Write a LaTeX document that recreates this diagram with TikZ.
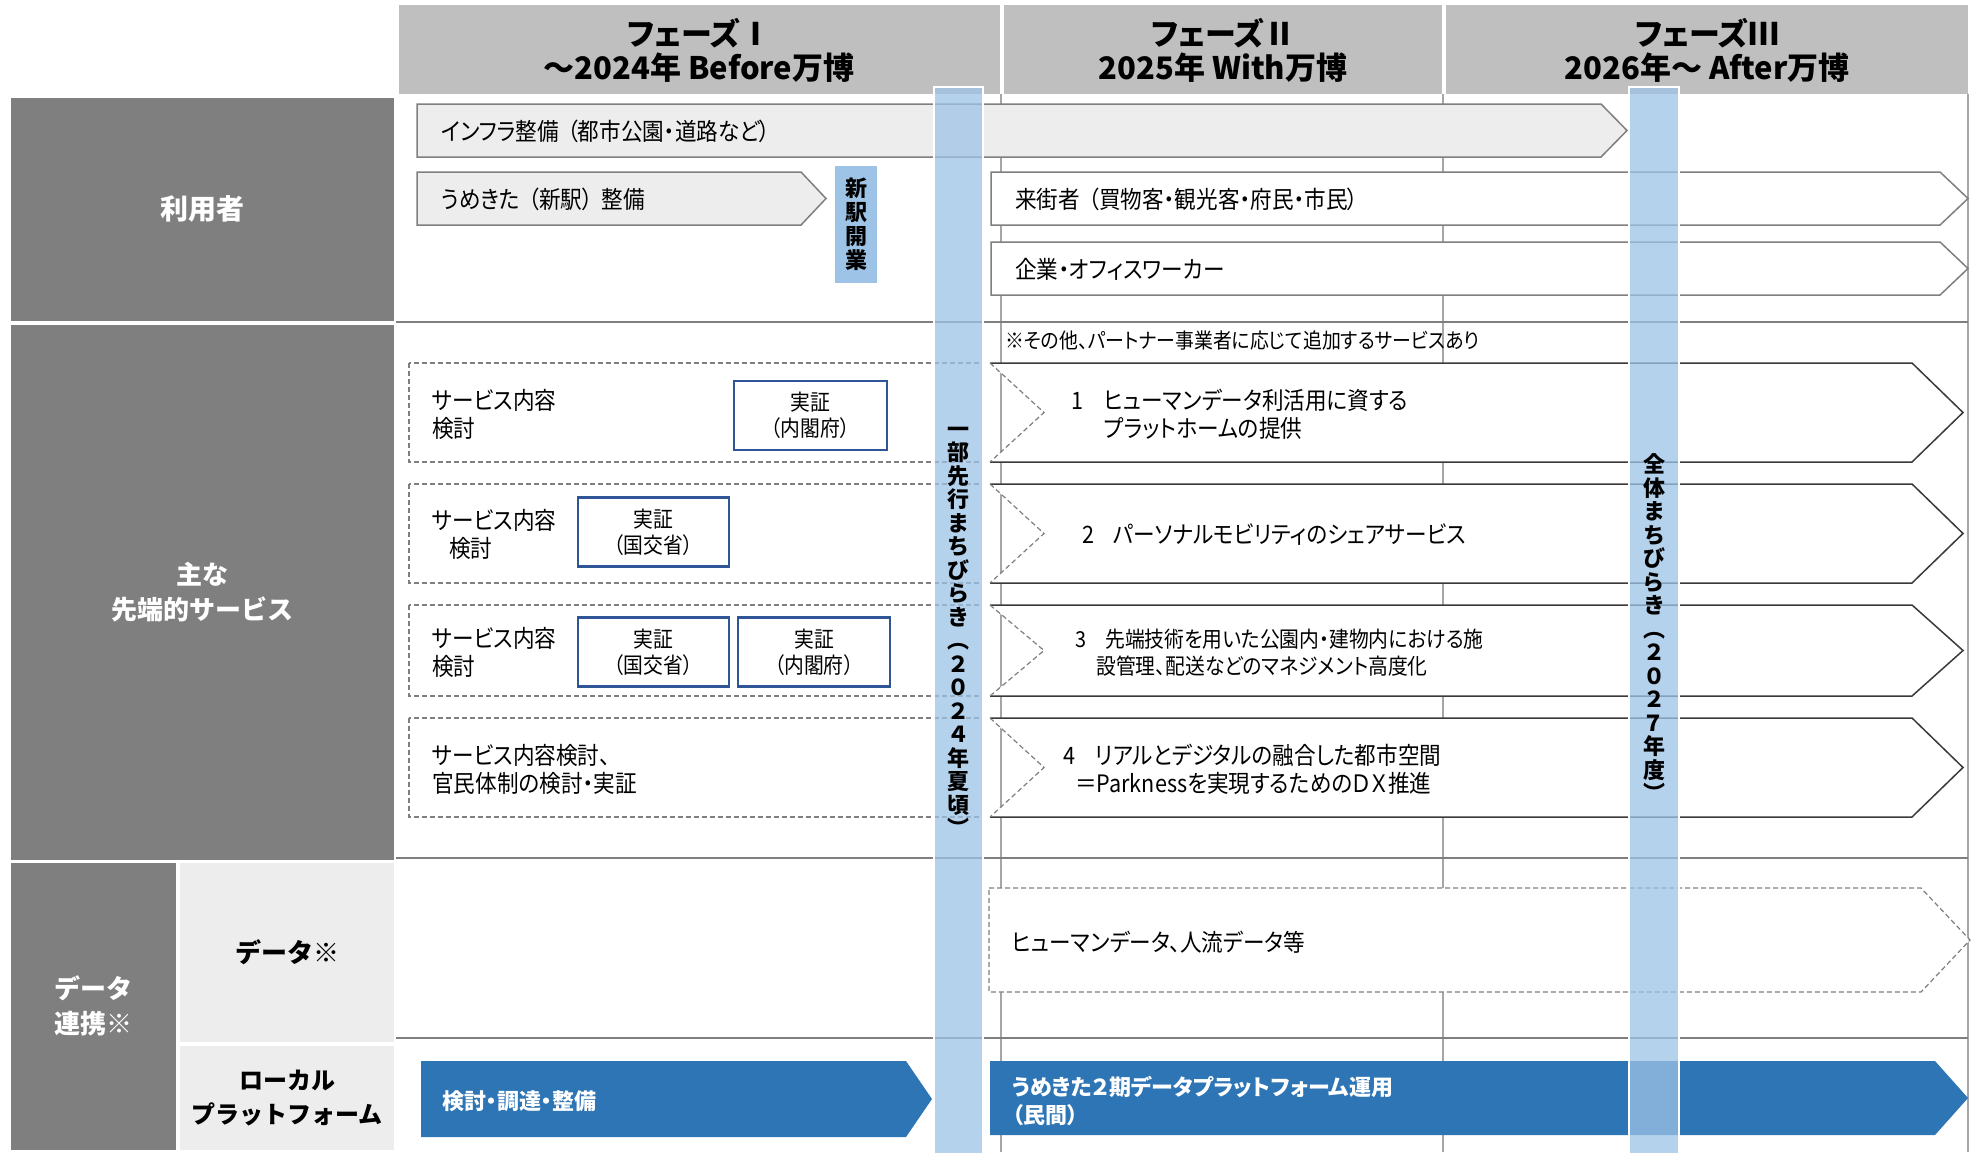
\documentclass[tikz,border=0pt]{standalone}
\usepackage{fontspec}
\setmainfont{Noto Sans CJK JP}[RawFeature=+palt]
\newfontfamily\bodyfont{Noto Sans CJK JP}[RawFeature=+palt,FakeStretch=0.9]
\newfontfamily\labfont{Noto Sans CJK JP}
\definecolor{hdr}{HTML}{BFBFBF}
\definecolor{darkc}{HTML}{7F7F7F}
\definecolor{lightc}{HTML}{EDEDED}
\definecolor{bandc}{HTML}{9DC3E6}
\definecolor{bluea}{HTML}{2E75B6}
\definecolor{boxb}{HTML}{2F5597}
\definecolor{gridc}{HTML}{7F7F7F}
\definecolor{vgridc}{HTML}{A6A6A6}
\definecolor{chevc}{HTML}{3A3A3A}
\newcommand{\myfs}[2]{\fontsize{#1}{#2}\selectfont}
\newcommand{\lp}{\hspace{0.35em}（}
\newcommand{\rp}{）\hspace{0.35em}}
\begin{document}
\begin{tikzpicture}[x=1pt,y=-1pt,
  hdrtext/.style={font=\bfseries\myfs{31}{34}, align=center, inner sep=0pt},
  labw/.style={font=\labfont\bfseries\myfs{26}{35}, text=white, align=center, inner sep=0pt},
  labb/.style={font=\labfont\bfseries\myfs{26}{35}, text=black, align=center, inner sep=0pt},
  gridh/.style={draw=gridc, line width=1.5pt},
  vline/.style={draw=vgridc, line width=1.2pt},
  grayarrow/.style={fill=lightc, draw=gridc, line width=1.5pt},
  whitearrow/.style={fill=white, draw=gridc, line width=1.5pt},
  dashbox/.style={draw=gridc, dash pattern=on 5pt off 3pt, line width=1.2pt},
  chevline/.style={draw=chevc, line width=1.5pt, line join=miter},
  shoubox/.style={draw=boxb, line width=2.5pt, fill=white, inner sep=0pt, align=center, font=\bodyfont\myfs{22}{26}},
  bandbox/.style={fill=bandc, fill opacity=0.75, draw=white, line width=1.5pt},
  bandtext/.style={font=\bfseries\myfs{22}{23.5}, align=center, inner sep=0pt},
  txt/.style={font=\bodyfont\myfs{24}{28}, anchor=west, align=left, inner sep=0pt},
  wtxt/.style={font=\bfseries\myfs{22}{28}, text=white, anchor=west, align=left, inner sep=0pt},
]
\useasboundingbox (0,0) rectangle (1978,1152);
\fill[white] (0,0) rectangle (1978,1152);

% header
\fill[hdr] (399,5) rectangle (999.5,94);
\fill[hdr] (1004,5) rectangle (1441.5,94);
\fill[hdr] (1446,5) rectangle (1968,94);
\node[hdrtext] (h1) at (699,50) {フェーズⅠ\\～2024年 Before万博};
\node[hdrtext] (h2) at (1223,50) {フェーズⅡ\\2025年 With万博};
\node[hdrtext] (h3) at (1707,50) {フェーズⅢ\\2026年～ After万博};

% left labels
\fill[darkc] (11,98) rectangle (394,321);
\fill[darkc] (11,325) rectangle (394,860);
\fill[darkc] (11,863) rectangle (176,1150);
\fill[lightc] (180,863) rectangle (394,1042);
\fill[lightc] (180,1046) rectangle (394,1150);
\node[labw,font=\labfont\bfseries\myfs{28}{35}] (l1) at (202,209) {利用者};
\node[labw] (l2) at (202,592) {主な\\先端的サービス};
\node[labw] (l3) at (93,1006) {データ\\連携※};
\node[labb] (l4) at (287,952) {データ※};
\node[labb,font=\labfont\bfseries\myfs{24}{34}] (l5) at (287,1098) {ローカル\\プラットフォーム};

% grid
\draw[vline] (1001,94) -- (1001,1152);
\draw[vline] (1443,94) -- (1443,1152);
\draw[vline] (1968,94) -- (1968,1152);
\draw[gridh] (396,322) -- (1968,322);
\draw[gridh] (396,858) -- (1968,858);
\draw[gridh] (396,1038) -- (1968,1038);

% users
\draw[grayarrow] (417,104) -- (1601,104) -- (1627,130.5) -- (1601,157) -- (417,157) -- cycle;
\draw[grayarrow] (417,172) -- (801,172) -- (826,198.5) -- (801,225) -- (417,225) -- cycle;
\draw[whitearrow] (991,172) -- (1940,172) -- (1968,198.5) -- (1940,225) -- (991,225) -- cycle;
\draw[whitearrow] (991,242) -- (1940,242) -- (1968,268.5) -- (1940,295) -- (991,295) -- cycle;
\node[txt] (infra) at (441,131) {インフラ整備\lp 都市公園・道路など）};
\node[txt] (umeki) at (441,199) {うめきた\lp 新駅\rp 整備};
\node[txt] (raigai) at (1015,199) {来街者\lp 買物客・観光客・府民・市民）};
\node[txt] (kigyo) at (1015,269) {企業・オフィスワーカー};
\fill[bandc] (835,166) rectangle (877,283);
\node[bandtext,font=\bfseries\myfs{22}{24}] (shineki) at (856,224.5) {新\\駅\\開\\業};

% services
\node[txt,font=\bodyfont\myfs{21}{24}] (note) at (1005,341) {※その他、パートナー事業者に応じて追加するサービスあり};
\foreach \t/\b in {363/462, 484/583, 605/696, 718/817}{
  \draw[dashbox] (409,\t) rectangle (983,\b);
  \fill[white] (990,\t) -- (1912,\t) -- (1963,{(\t+\b)/2}) -- (1912,\b) -- (990,\b) -- (1044,{(\t+\b)/2}) -- cycle;
  \draw[chevline] (990,\t) -- (1912,\t) -- (1963,{(\t+\b)/2}) -- (1912,\b) -- (990,\b);
  \draw[dashbox] (990,\t) -- (1044,{(\t+\b)/2}) -- (990,\b);
}
\node[txt] (s1l) at (432,414) {サービス内容\\検討};
\node[txt] (s2l) at (432,534) {サービス内容\\\hspace*{0.7em}検討};
\node[txt] (s3l) at (432,652) {サービス内容\\検討};
\node[txt] (s4l) at (432,769) {サービス内容検討、\\官民体制の検討・実証};
\node[shoubox,minimum width=153pt,minimum height=69pt] (j1) at (810.5,415.5) {実証\\（内閣府）};
\node[shoubox,minimum width=151pt,minimum height=69pt] (j2) at (653.5,532) {実証\\（国交省）};
\node[shoubox,minimum width=151pt,minimum height=69pt] (j3) at (653.5,652) {実証\\（国交省）};
\node[shoubox,minimum width=152pt,minimum height=69pt] (j4) at (814,652) {実証\\（内閣府）};
\node[txt] (s1r) at (1071,414) {\makebox[33pt][l]{1}ヒューマンデータ利活用に資する\\\hspace*{33pt}プラットホームの提供};
\node[txt] (s2r) at (1082,535) {\makebox[31pt][l]{2}パーソナルモビリティのシェアサービス};
\node[txt,font=\bodyfont\myfs{22}{27}] (s3r) at (1075,653) {\makebox[30pt][l]{3}先端技術を用いた公園内・建物内における施\\\hspace*{21pt}設管理、配送などのマネジメント高度化};
\node[txt] (s4r) at (1063,769) {\makebox[32pt][l]{4}リアルとデジタルの融合した都市空間\\\hspace*{12pt}＝Parknessを実現するためのＤＸ推進};

% data
\draw[dashbox,fill=white] (989,888) -- (1921,888) -- (1970,940) -- (1921,992) -- (989,992) -- cycle;
\node[txt] (data) at (1012,942) {ヒューマンデータ、人流データ等};

% local platform
\fill[bluea] (421,1061) -- (906,1061) -- (932,1099) -- (906,1137) -- (421,1137) -- cycle;
\fill[bluea] (990,1061) -- (1935,1061) -- (1968,1098) -- (1935,1135) -- (990,1135) -- cycle;
\node[wtxt] (lp1) at (442,1101) {検討・調達・整備};
\node[wtxt] (lp2) at (1012,1101) {うめきた２期データプラットフォーム運用\\（民間）};

% bands
\draw[bandbox] (934,87) rectangle (983,1160);
\draw[bandbox] (1629,87) rectangle (1679,1160);
\node[bandtext] (b1) at (958.5,632) {一\\部\\先\\行\\ま\\ち\\び\\ら\\き\\︵\\２\\０\\２\\４\\年\\夏\\頃\\︶};
\node[bandtext] (b2) at (1654,628) {全\\体\\ま\\ち\\び\\ら\\き\\︵\\２\\０\\２\\７\\年\\度\\︶};
\end{tikzpicture}
\end{document}
